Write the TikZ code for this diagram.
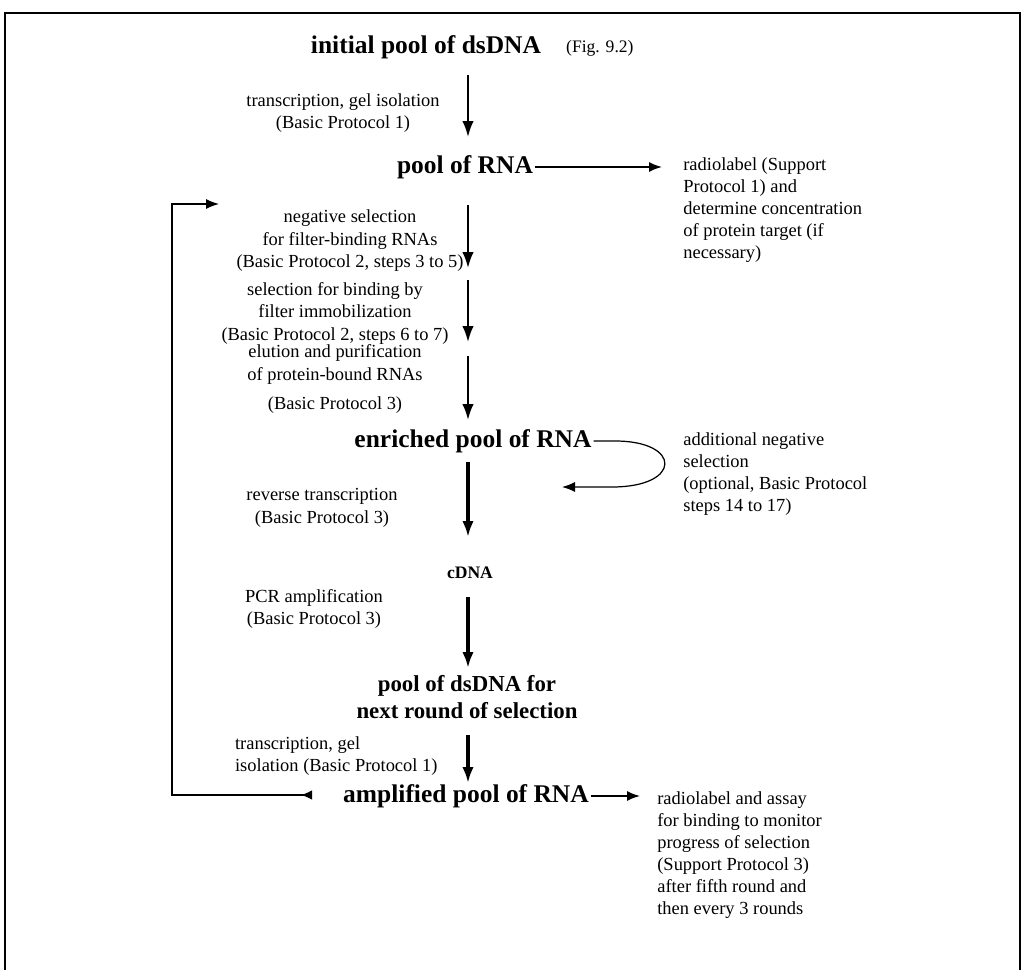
\documentclass[tikz,border=0pt]{standalone}
\usepackage{fontspec}
\setmainfont{Liberation Serif}
\usetikzlibrary{arrows.meta,positioning}
\tikzset{
  pool/.style={font=\fontsize{14.5}{17}\selectfont\bfseries,inner sep=1pt},
  stepnote/.style={font=\fontsize{10.5}{12.8}\selectfont,align=center,inner sep=1pt},
  sidenote/.style={font=\fontsize{10.5}{12.6}\selectfont,align=left,anchor=north west,inner sep=0pt},
  flow/.style={-{Latex[length=3.2mm,width=2.3mm]},line width=1.2pt},
  heavyflow/.style={flow,line width=1.8pt},
  feed/.style={-{Latex[length=2.6mm,width=2mm]},line width=0.7pt}
}
\begin{document}
\begin{tikzpicture}[x=0.02cm,y=-0.02cm]
  \useasboundingbox (0,0) rectangle (1022,970);

  % frame
  \draw[line width=0.8pt] (5,975)--(5,13)--(1020,13)--(1020,975);

  % pools
  \node[pool] (dsdna) at (426,47) {initial pool of dsDNA};
  \node[font=\fontsize{10}{12}\selectfont,anchor=west] (fig) at (560,48) {(Fig. 9.2)};
  \node[pool] (rna) at (465,167) {pool of RNA};
  \node[pool] (enriched) at (473,441) {enriched pool of RNA};
  \node[font=\fontsize{10}{12}\selectfont\bfseries,inner sep=1pt] (cdna) at (470,573) {cDNA};
  \node[pool,align=center,font=\fontsize{13}{15}\selectfont\bfseries] (nextpool) at (467,697)
    {pool of dsDNA for\\next round of selection};
  \node[pool] (amplified) at (466,796) {amplified pool of RNA};

  % step notes
  \node[stepnote] (tGel) at (343,113)
    {transcription, gel isolation\\(Basic Protocol 1)};
  \node[stepnote] (neg) at (350,241)
    {negative selection\\for filter-binding RNAs\\(Basic Protocol 2, steps 3 to 5)};
  \node[stepnote] (bind) at (335,313)
    {selection for binding by\\filter immobilization\\(Basic Protocol 2, steps 6 to 7)};
  \node[stepnote] (elute) at (335,379)
    {elution and purification\\of protein-bound RNAs\\[0.35em](Basic Protocol 3)};
  \node[stepnote] (revT) at (322,508)
    {reverse transcription\\(Basic Protocol 3)};
  \node[stepnote] (pcr) at (314,609)
    {PCR amplification\\(Basic Protocol 3)};
  \node[stepnote,align=left,anchor=west] (tGelTwo) at (233,756)
    {transcription, gel\\isolation (Basic Protocol 1)};

  % side notes
  \node[sidenote] (radio) at (683,157)
    {radiolabel (Support\\Protocol 1) and\\determine concentration\\of protein target (if\\necessary)};
  \node[sidenote] (addneg) at (683,432)
    {additional negative\\selection\\(optional, Basic Protocol\\steps 14 to 17)};
  \node[sidenote] (assay) at (657,791)
    {radiolabel and assay\\for binding to monitor\\progress of selection\\(Support Protocol 3)\\after fifth round and\\then every 3 rounds};

  % arrow ends
  \coordinate (aOneS) at (468,75);   \coordinate (aOneE) at (468,137);
  \coordinate (aTwoS) at (468,205);  \coordinate (aTwoE) at (468,268);
  \coordinate (aThrS) at (468,280);  \coordinate (aThrE) at (468,342);
  \coordinate (aFouS) at (468,356);  \coordinate (aFouE) at (468,420);
  \coordinate (aFivS) at (468,462);  \coordinate (aFivE) at (468,537);
  \coordinate (aSixS) at (468,597);  \coordinate (aSixE) at (468,668);
  \coordinate (aSevS) at (468,735);  \coordinate (aSevE) at (468,783);

  \draw[flow] (aOneS)--(aOneE);
  \draw[flow] (aTwoS)--(aTwoE);
  \draw[flow] (aThrS)--(aThrE);
  \draw[flow] (aFouS)--(aFouE);
  \draw[heavyflow] (aFivS)--(aFivE);
  \draw[heavyflow] (aSixS)--(aSixE);
  \draw[heavyflow] (aSevS)--(aSevE);

  % side connectors
  \coordinate (radioIn) at (662,167);
  \draw[feed,line width=0.9pt] (rna.east)--(radioIn);

  \coordinate (loopA) at (615,441);
  \coordinate (loopB) at (612,487);
  \coordinate (loopEnd) at (562,487);
  \draw[feed] (enriched.east)--(loopA)
    .. controls (682,441) and (682,487) .. (loopB)--(loopEnd);

  \coordinate (assayIn) at (640,796);
  \draw[feed,line width=0.9pt] (amplified.east)--(assayIn);

  % feedback to next round
  \coordinate (fbStart) at (312,795);
  \coordinate (fbLow) at (172,795);
  \coordinate (fbHigh) at (172,204);
  \coordinate (fbEnd) at (219,204);
  \draw[feed,{Latex[reversed,length=2.2mm,width=1.9mm]}-{Latex[length=2.6mm,width=2mm]}]
    (fbStart)--(fbLow)--(fbHigh)--(fbEnd);

\end{tikzpicture}
\end{document}
